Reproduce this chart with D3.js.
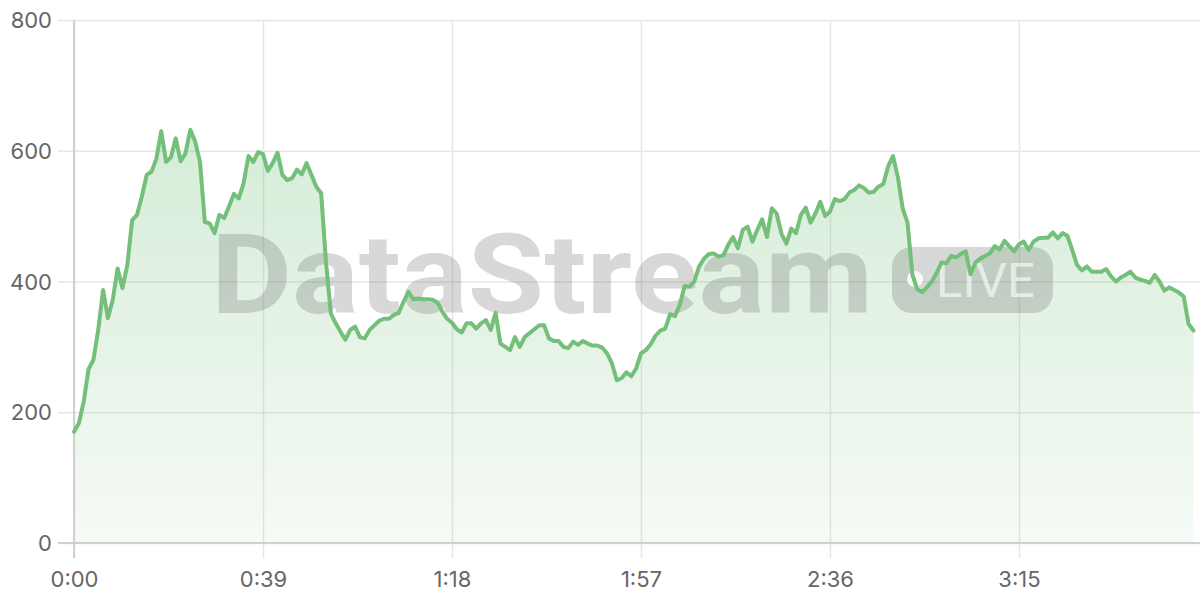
<!DOCTYPE html>
<html>
<head>
<meta charset="utf-8">
<script src="https://cdn.jsdelivr.net/npm/d3@7"></script>
<style>
  html, body { margin: 0; padding: 0; background: #ffffff; }
  svg { display: block; }
</style>
</head>
<body>
<svg id="chart" width="1200" height="600"></svg>
<script>
// ---- data (seconds, value) ----
const values = [
  170,183,216,266,280,326,387,344,372,420,390,425,494,502,530,563,568,588,630,583,
  590,619,584,596,632,614,583,491,489,474,502,497,515,534,527,550,592,583,598,595,
  569,581,597,563,555,558,571,564,581,563,545,535,430,351,336,323,311,326,331,315,
  313,326,333,340,343,343,349,352,369,384,373,374,373,373,372,368,354,343,337,327,
  322,336,336,328,336,341,326,352,305,300,295,315,300,315,321,327,333,333,313,309,
  309,300,298,308,303,309,305,302,302,299,290,275,249,252,261,255,267,290,295,304,
  317,325,328,350,347,364,393,392,400,423,435,442,443,438,440,456,468,451,479,484,
  461,479,495,468,512,504,473,458,481,474,502,513,490,504,522,500,507,526,523,526,
  536,540,547,543,536,537,545,549,576,592,560,512,490,411,388,384,391,400,413,429,
  428,439,437,442,446,411,429,435,439,443,454,449,462,454,446,457,461,448,461,466,
  467,467,475,466,474,470,448,425,417,423,415,415,415,419,408,400,406,410,415,406,
  403,401,398,410,400,386,391,387,383,377,335,325
];
const seconds = values.map((v, i) => i);
const xTickValues = [0, 39, 78, 117, 156, 195];
const yTickValues = [0, 200, 400, 600, 800];
const watermarkText = "DataStream";
const badgeText = "LIVE";

// ---- layout ----
const svg = d3.select("#chart");
const mLeft = 74, mRight = 1200, mTop = 20, mBottom = 543;
const x = d3.scaleLinear().domain([0, (mRight - mLeft) / 4.846]).range([mLeft, mRight]);
const y = d3.scaleLinear().domain([0, 800]).range([mBottom, mTop]);
const green = "#74bf7a";
const font = "Inter, 'Liberation Sans', Arial, sans-serif";

const defs = svg.append("defs");
const grad = defs.append("linearGradient")
  .attr("id", "areaGrad").attr("x1", 0).attr("y1", 0).attr("x2", 0).attr("y2", 1);
grad.append("stop").attr("offset", "0%").attr("stop-color", green).attr("stop-opacity", 0.30);
grad.append("stop").attr("offset", "100%").attr("stop-color", green).attr("stop-opacity", 0.07);

// grid + y axis
const yAxis = d3.axisLeft(y).tickValues(yTickValues).tickSize(-(mRight - mLeft + 16)).tickPadding(6);
const gy = svg.append("g").attr("transform", `translate(${mLeft - 16},0)`).call(yAxis);
gy.select(".domain").remove();
gy.selectAll(".tick line").attr("stroke", "#e6e6e6").attr("stroke-width", 1.5);
gy.selectAll(".tick text").attr("font-family", font).attr("font-size", 22)
  .attr("fill", "#666").attr("x", -6).attr("dy", "0.35em");

// grid + x axis
const xAxis = d3.axisBottom(x).tickValues(xTickValues).tickSize(15)
  .tickFormat(d => Math.floor(d / 60) + ":" + String(d % 60).padStart(2, "0"));
const gx = svg.append("g").attr("transform", `translate(0,${mBottom})`).call(xAxis);
gx.select(".domain").remove();
gx.selectAll(".tick line").attr("stroke", "#e6e6e6").attr("stroke-width", 1.5)
  .attr("y1", -(mBottom - mTop)).attr("y2", 15);
gx.selectAll(".tick text").attr("font-family", font).attr("font-size", 22)
  .attr("fill", "#666").attr("y", 28).attr("dy", "0.71em");

// area
const area = d3.area().x((d, i) => x(seconds[i])).y0(y(0)).y1(d => y(d));
svg.append("path").datum(values).attr("d", area).attr("fill", "url(#areaGrad)");

// axis lines
svg.append("line").attr("x1", mLeft).attr("x2", mLeft).attr("y1", mTop).attr("y2", mBottom + 15)
  .attr("stroke", "#d0d0d0").attr("stroke-width", 2);
svg.append("line").attr("x1", mLeft - 16).attr("x2", mRight).attr("y1", mBottom).attr("y2", mBottom)
  .attr("stroke", "#d0d0d0").attr("stroke-width", 2);

// watermark
const wm = svg.append("g").attr("pointer-events", "none");
wm.append("text").text(watermarkText)
  .attr("x", 211).attr("y", 313)
  .attr("font-family", "Roboto, 'Liberation Sans', sans-serif").attr("font-weight", 700)
  .attr("font-size", 111).attr("textLength", 662).attr("lengthAdjust", "spacingAndGlyphs")
  .attr("fill", "rgb(100,100,100)").attr("fill-opacity", 0.25);
wm.append("rect").attr("x", 892).attr("y", 247).attr("width", 161).attr("height", 66).attr("rx", 20)
  .attr("fill", "rgb(100,100,100)").attr("fill-opacity", 0.25);
wm.append("circle").attr("cx", 915).attr("cy", 279).attr("r", 8)
  .attr("fill", "#ffffff").attr("fill-opacity", 0.85);
wm.append("text").text(badgeText)
  .attr("x", 936).attr("y", 297)
  .attr("font-family", "Roboto, 'Liberation Sans', sans-serif").attr("font-weight", 400)
  .attr("font-size", 48).attr("textLength", 99).attr("lengthAdjust", "spacingAndGlyphs")
  .attr("fill", "#ffffff").attr("fill-opacity", 0.6);

// line
const line = d3.line().x((d, i) => x(seconds[i])).y(d => y(d));
svg.append("path").datum(values).attr("d", line)
  .attr("fill", "none").attr("stroke", green).attr("stroke-width", 4)
  .attr("stroke-linejoin", "round").attr("stroke-linecap", "round");
</script>
</body>
</html>
